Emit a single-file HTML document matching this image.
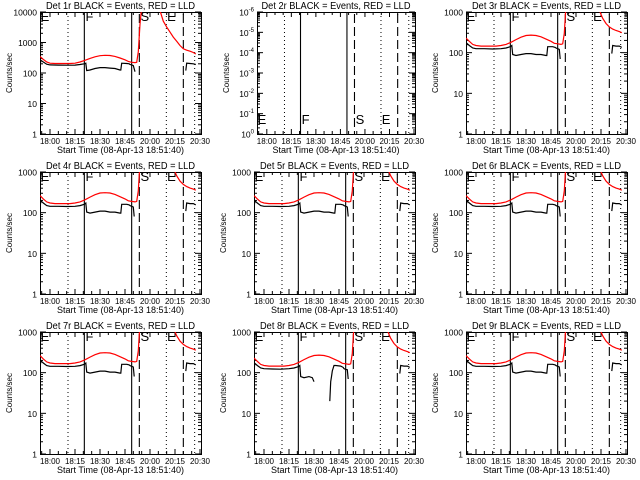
<!DOCTYPE html>
<html><head><meta charset="utf-8"><style>
html,body{margin:0;padding:0;background:#fff}
svg{display:block}
text{font-family:"Liberation Sans",sans-serif;fill:#000}
</style></head><body>
<svg id="chart" width="640" height="480" viewBox="0 0 640 480" xmlns="http://www.w3.org/2000/svg"></svg>
<script>
// ---- data (time in minutes after 18:00 label) ----
const xTickLabels = ["18:00","18:15","18:30","18:45","20:00","20:15","20:30"];
const xTickTimes = [0,15,30,45,60,75,90];
const panelNames = ["1r","2r","3r","4r","5r","6r","7r","8r","9r"];
const vDotted = [10.8, 69.8, 86.8];
const vSolid = [20.6, 49];
const vDashed = [53.6, 80];
const letterLabels = ["E","F","S","E"];
const letterTimes = [-5.6, 21.3, 54.3, 70.3];

// base series (typical detector)
const redT1 = [-6,-4,-2,0,3,6,9,12,15,18,21,24,27,30,33,36,39,42,45,47,49,51,52,53,54,55];
const redV1 = [230,190,160,150,145,145,145,145,150,160,180,210,240,265,270,265,245,215,190,170,165,160,165,300,1500,5000];
const redT2 = [74.4,76,78,80,82,84,86,87.5];
const redV2 = [1000,700,520,430,380,350,330,310];
const blkT1 = [-6,-5.5,-4,-2,0,5,10,15,18,20.5,21.5,22,24,27,30,33,36,39,42,42.5,43,46,47.5,48,49,50,50.5];
const blkV1 = [110,170,150,130,125,125,123,125,130,140,150,90,85,90,95,95,90,90,85,85,140,140,135,130,125,120,70];
const blkT2 = [81.5,82,84,86,87.5];
const blkV2 = [95,150,145,145,135];

// panel 1 series
const p1RedT1 = [-6,-4,-2,0,3,6,9,12,15,18,21,24,27,30,33,36,39,42,45,47,49,51,52,53,54,55];
const p1RedV1 = [350,280,230,210,205,205,205,205,210,230,260,300,340,370,380,375,350,310,270,240,225,220,225,500,4000,15000];
const p1RedT2 = [66,68,70,72,74,76,78,80,82,84,86,87.5];
const p1RedV2 = [11000,5000,3200,2200,1500,1100,800,620,560,520,470,420];
const p1BlkT1 = [-6,-5.5,-4,-2,0,5,10,15,18,20.5,21.5,22,24,27,30,33,36,39,42,42.5,43,46,47.5,48,49,50,51];
const p1BlkV1 = [150,260,230,195,185,182,180,182,190,200,210,120,125,140,150,150,145,140,125,125,210,205,200,190,185,175,110];
const p1BlkT2 = [81.5,82,84,86,87.5];
const p1BlkV2 = [120,210,205,200,190];

// panel 8 black segments
const p8BlkT1 = [-6,-5.5,-4,-2,0,5,10,15,18,20.5,21.5,22,24,27,29,30];
const p8BlkV1 = [110,170,150,130,125,123,122,125,130,140,150,80,75,80,75,60];
const p8BlkT2 = [39.5,40,40.5,41,42,43,46,47.5,48,49,50,50.5];
const p8BlkV2 = [20,60,80,110,150,150,145,135,125,120,118,70];

const redScale = [1,0,1,1.15,1.15,1.15,1.15,1,1.15];
const blkScale = [1,0,1,1.15,1.15,1.15,1.15,1,1.15];

// ---- drawing ----
const NS="http://www.w3.org/2000/svg";
const svg=document.getElementById("chart");
function mk(tag,attrs,parent){const e=document.createElementNS(NS,tag);for(const k in attrs)e.setAttribute(k,attrs[k]);(parent||svg).appendChild(e);return e;}
const colRight=[201,415,627];
const tMin=-6, tMax=90.6;

for(let p=0;p<9;p++){
  const r=Math.floor(p/3), c=p%3;
  const right=colRight[c];
  const left = p===0?40:(p===1?257:right-161);
  const top=12+160*r, bottom=134+160*r;
  const decades = p===0?4:(p===1?6:3);
  const g=mk("g",{});
  
  
  const xs=t=>left+(t-tMin)/(tMax-tMin)*(right-left);
  const ys=v=>bottom-(Math.log10(v))/decades*(bottom-top);

  const title=mk("text",{x:(left+right)/2,y:9+160*r,"font-size":"10","text-anchor":"middle",textLength:"149",lengthAdjust:"spacingAndGlyphs"},g);
  title.textContent="Det "+panelNames[p]+" BLACK = Events, RED = LLD";
  
  

  const fr=mk("rect",{x:left+0.5,y:top+0.5,width:right-left,height:bottom-top,fill:"none",stroke:"#000","stroke-width":1},g);
  
  

  for(let d=0;d<=decades;d++){
    const y=ys(Math.pow(10,d));
    mk("line",{x1:left,x2:left+6,y1:y,y2:y,stroke:"#000"},g);
    mk("line",{x1:right-6,x2:right,y1:y,y2:y,stroke:"#000"},g);
    if(d<decades){for(let m=2;m<10;m++){const ym=ys(m*Math.pow(10,d));
      mk("line",{x1:left,x2:left+3,y1:ym,y2:ym,stroke:"#000"},g);
      mk("line",{x1:right-3,x2:right,y1:ym,y2:ym,stroke:"#000"},g);}}
    const lab=mk("text",{x:left-3,y:y+3.5,"font-size":"8.5","text-anchor":"end"},g);
    if(p===1){lab.textContent="10";const s=mk("tspan",{dy:-4,"font-size":"6"},lab);s.textContent=(d===0?"0":"-"+d);}
    else lab.textContent=String(Math.pow(10,d));
    
    
  }
  const yl=mk("text",{x:0,y:0,"font-size":"8","text-anchor":"middle",transform:`translate(${left-28},${(top+bottom)/2}) rotate(-90)`},g);
  yl.textContent="Counts/sec";
  
  

  for(let i=0;i<xTickTimes.length;i++){
    const x=xs(xTickTimes[i]);
    mk("line",{x1:x,x2:x,y1:bottom,y2:bottom-5,stroke:"#000"},g);
    mk("line",{x1:x,x2:x,y1:top,y2:top+5,stroke:"#000"},g);
    const xl=mk("text",{x:x,y:bottom+10,"font-size":"8","text-anchor":"middle"},g);
    xl.textContent=xTickLabels[i];
    
    
  }
  for(let t=-5;t<tMax;t+=5){if(t%15===0)continue;const x=xs(t);
    mk("line",{x1:x,x2:x,y1:bottom,y2:bottom-3,stroke:"#000"},g);
    mk("line",{x1:x,x2:x,y1:top,y2:top+3,stroke:"#000"},g);}
  const xt=mk("text",{x:(left+right)/2,y:bottom+19,"font-size":"9","text-anchor":"middle"},g);
  xt.textContent="Start Time (08-Apr-13 18:51:40)";
  
  

  vDotted.forEach(t=>{const l=mk("line",{x1:xs(t),x2:xs(t),y1:top,y2:bottom,stroke:"#000","stroke-dasharray":"1,3"},g);
    });
  vSolid.forEach(t=>{const l=mk("line",{x1:xs(t),x2:xs(t),y1:top,y2:bottom,stroke:"#000","stroke-width":1.1},g);
    });
  vDashed.forEach(t=>{const l=mk("line",{x1:xs(t),x2:xs(t),y1:top+2,y2:bottom,stroke:"#000","stroke-width":1.1,"stroke-dasharray":"9,4"},g);
    });
  letterLabels.forEach((L,i)=>{const ly = p===1? bottom-10 : top+9;
    const tx=mk("text",{x:xs(letterTimes[i]),y:ly,"font-size":"13"},g);tx.textContent=L;
    });

  if(p===1) continue;
  const cid="clip"+p;
  const cp=mk("clipPath",{id:cid},g);mk("rect",{x:left,y:top,width:right-left,height:bottom-top},cp);
  function line(T,V,sc,color,name){
    const pts=T.map((t,i)=>xs(t).toFixed(1)+","+ys(V[i]*sc).toFixed(1)).join(" ");
    const pl=mk("polyline",{points:pts,fill:"none",stroke:color,"stroke-width":1.2,"clip-path":`url(#${cid})`},g);
    
  }
  if(p===0){
    line(p1RedT1,p1RedV1,1,"#f00","lld-series");line(p1RedT2,p1RedV2,1,"#f00","lld-series");
    line(p1BlkT1,p1BlkV1,1,"#000","events-series");line(p1BlkT2,p1BlkV2,1,"#000","events-series");
  } else {
    line(redT1,redV1,redScale[p],"#f00","lld-series");line(redT2,redV2,redScale[p],"#f00","lld-series");
    if(p===7){line(p8BlkT1,p8BlkV1,1,"#000","events-series");line(p8BlkT2,p8BlkV2,1,"#000","events-series");}
    else line(blkT1,blkV1,blkScale[p],"#000","events-series");
    line(blkT2,blkV2,blkScale[p],"#000","events-series");
  }
}
</script>
</body></html>
